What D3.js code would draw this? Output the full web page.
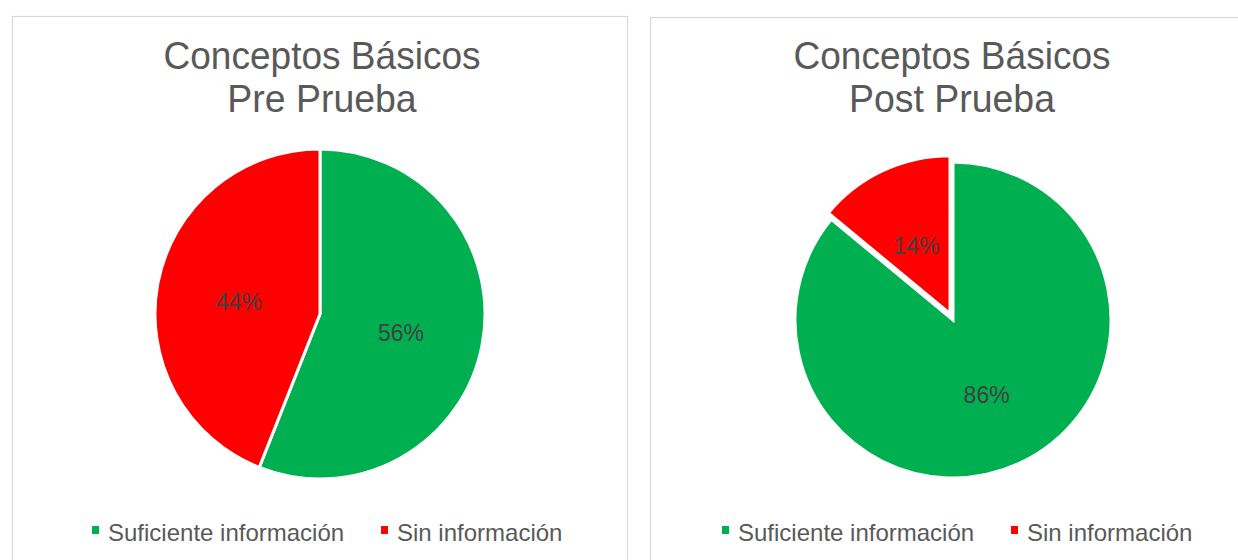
<!DOCTYPE html>
<html><head><meta charset="utf-8">
<script src="https://cdn.jsdelivr.net/npm/d3@7"></script>
<style>html,body{margin:0;padding:0;background:#fff;}svg{display:block;}</style>
</head><body>
<script>
const categories = ["Suficiente información", "Sin información"];
const titles1 = ["Conceptos Básicos", "Conceptos Básicos"];
const titles2 = ["Pre Prueba", "Post Prueba"];
const preValues = [56, 44];
const postValues = [86, 14];
const colors = ["#00B050", "#FF0000"];

const W = 1238, H = 560;
const svg = d3.select("body").append("svg").attr("width", W).attr("height", H);
const font = "Liberation Sans, Arial, sans-serif";

const panels = [
  {x: 12, y: 16, w: 615, h: 560, cx: 320, cy: 314, r: 165, values: preValues, explode: [0, 0], tcx: 322, legX: 92},
  {x: 650, y: 17, w: 620, h: 560, cx: 953, cy: 320, r: 158, values: postValues, explode: [0, 7], tcx: 952, legX: 722}
];

function condensed(sel, k) {
  const n = sel.node().getComputedTextLength();
  sel.attr("textLength", n * k).attr("lengthAdjust", "spacingAndGlyphs");
}

panels.forEach((p, pi) => {
  const g = svg.append("g");
  g.append("rect").attr("x", p.x + 0.5).attr("y", p.y + 0.5).attr("width", p.w).attr("height", p.h)
    .attr("fill", "#fff").attr("stroke", "#d9d9d9").attr("stroke-width", 1.2);

  const t1 = g.append("text").attr("x", p.tcx).attr("y", 69).attr("text-anchor", "middle")
    .attr("font-family", font).attr("font-size", 39).attr("fill", "#595959")
    .text(titles1[pi]);
  condensed(t1, 0.95);
  const t2 = g.append("text").attr("x", p.tcx).attr("y", 112).attr("text-anchor", "middle")
    .attr("font-family", font).attr("font-size", 39).attr("fill", "#595959")
    .text(titles2[pi]);
  condensed(t2, 0.96);

  const pie = d3.pie().sort(null).value(d => d)(p.values);
  const arc = d3.arc().innerRadius(0).outerRadius(p.r);
  const labelArc = d3.arc().innerRadius(p.r * 0.5).outerRadius(p.r * 0.5);

  const slices = g.append("g").attr("transform", `translate(${p.cx},${p.cy})`);
  pie.forEach((d, i) => {
    const mid = (d.startAngle + d.endAngle) / 2;
    const off = p.explode[i];
    const dx = Math.sin(mid) * off, dy = -Math.cos(mid) * off;
    const sg = slices.append("g").attr("transform", `translate(${dx},${dy})`);
    sg.append("path").attr("d", arc(d)).attr("fill", colors[i])
      .attr("stroke", "#fff").attr("stroke-width", 3).attr("stroke-linejoin", "miter");
    const c = labelArc.centroid(d);
    sg.append("text").attr("x", c[0]).attr("y", c[1]).attr("dy", "0.5em")
      .attr("text-anchor", "middle").attr("font-family", font).attr("font-size", 23)
      .attr("fill", "#404040").text(p.values[i] + "%");
  });

  // legend
  const leg = g.append("g");
  const offsets = [0, 289];
  categories.forEach((c, i) => {
    const lx = p.legX + offsets[i];
    leg.append("rect").attr("x", lx).attr("y", 526).attr("width", 7).attr("height", 8).attr("fill", colors[i]);
    leg.append("text").attr("x", lx + 16).attr("y", 541).attr("font-family", font).attr("font-size", 24)
      .attr("fill", "#595959").text(c);
  });
});
</script>
</body></html>
